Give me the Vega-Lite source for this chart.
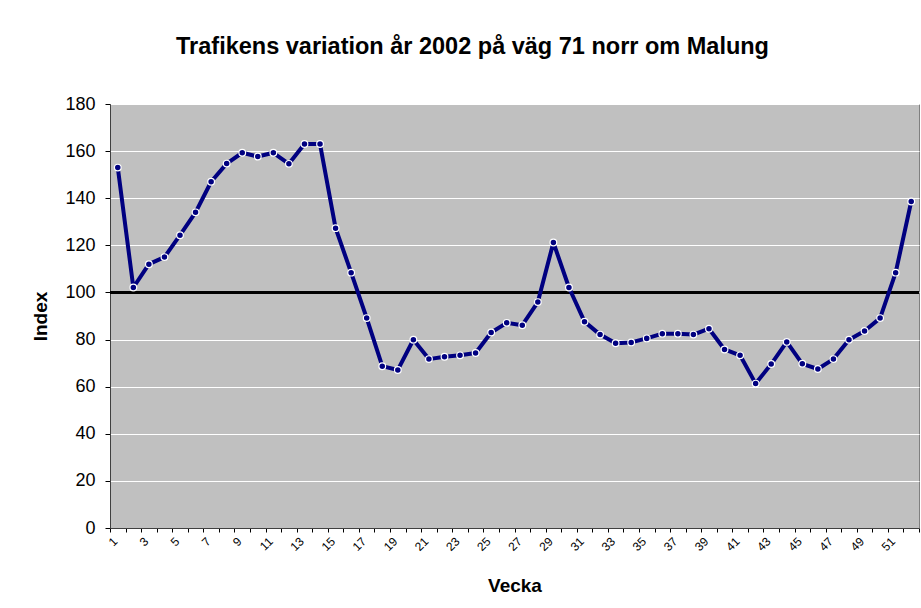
{
  "$schema": "https://vega.github.io/schema/vega-lite/v6.json",
  "width": 809,
  "height": 424,
  "autosize": {"type": "none"},
  "padding": {"left": 110, "top": 104, "right": 2, "bottom": 80},
  "background": "white",
  "title": {
    "text": "Trafikens variation år 2002 på väg 71 norr om Malung",
    "font": "Liberation Sans",
    "fontSize": 23.5,
    "fontWeight": "bold",
    "color": "black",
    "anchor": "middle",
    "dx": -42,
    "offset": 37
  },
  "data": {
    "values": [
      {"week": 1, "index": 153.0},
      {"week": 2, "index": 102.1},
      {"week": 3, "index": 112.0},
      {"week": 4, "index": 115.0},
      {"week": 5, "index": 124.3},
      {"week": 6, "index": 134.0},
      {"week": 7, "index": 147.0},
      {"week": 8, "index": 154.7},
      {"week": 9, "index": 159.3},
      {"week": 10, "index": 157.7},
      {"week": 11, "index": 159.3},
      {"week": 12, "index": 154.6},
      {"week": 13, "index": 163.0},
      {"week": 14, "index": 163.0},
      {"week": 15, "index": 127.3},
      {"week": 16, "index": 108.4},
      {"week": 17, "index": 89.1},
      {"week": 18, "index": 68.7},
      {"week": 19, "index": 67.1},
      {"week": 20, "index": 79.9},
      {"week": 21, "index": 71.7},
      {"week": 22, "index": 72.7},
      {"week": 23, "index": 73.3},
      {"week": 24, "index": 74.3},
      {"week": 25, "index": 83.0},
      {"week": 26, "index": 87.1},
      {"week": 27, "index": 86.1},
      {"week": 28, "index": 95.9},
      {"week": 29, "index": 121.2},
      {"week": 30, "index": 102.1},
      {"week": 31, "index": 87.6},
      {"week": 32, "index": 82.1},
      {"week": 33, "index": 78.4},
      {"week": 34, "index": 78.8},
      {"week": 35, "index": 80.5},
      {"week": 36, "index": 82.5},
      {"week": 37, "index": 82.5},
      {"week": 38, "index": 82.1},
      {"week": 39, "index": 84.6},
      {"week": 40, "index": 75.8},
      {"week": 41, "index": 73.3},
      {"week": 42, "index": 61.3},
      {"week": 43, "index": 69.6},
      {"week": 44, "index": 79.0},
      {"week": 45, "index": 69.7},
      {"week": 46, "index": 67.5},
      {"week": 47, "index": 71.7},
      {"week": 48, "index": 79.9},
      {"week": 49, "index": 83.6},
      {"week": 50, "index": 89.1},
      {"week": 51, "index": 108.4},
      {"week": 52, "index": 138.6}
    ]
  },
  "layer": [
    {
      "mark": {"type": "point", "opacity": 0},
      "encoding": {
        "x": {
          "field": "week",
          "type": "quantitative",
          "scale": {"domain": [0.5, 52.5], "nice": false, "zero": false},
          "axis": {
            "orient": "bottom",
            "values": [0.5,1.5,2.5,3.5,4.5,5.5,6.5,7.5,8.5,9.5,10.5,11.5,12.5,13.5,14.5,15.5,16.5,17.5,18.5,19.5,20.5,21.5,22.5,23.5,24.5,25.5,26.5,27.5,28.5,29.5,30.5,31.5,32.5,33.5,34.5,35.5,36.5,37.5,38.5,39.5,40.5,41.5,42.5,43.5,44.5,45.5,46.5,47.5,48.5,49.5,50.5,51.5,52.5],
            "labels": false,
            "grid": false,
            "title": null,
            "tickColor": "black",
            "tickSize": 4,
            "domainColor": "#404040",
            "domainWidth": 1
          }
        },
        "y": {"field": "index", "type": "quantitative", "scale": {"domain": [0, 180], "nice": false}}
      }
    },
    {
      "mark": {"type": "rule", "color": "black", "strokeWidth": 3},
      "encoding": {
        "y": {"datum": 100, "type": "quantitative"}
      }
    },
    {
      "mark": {
        "type": "line",
        "color": "#000080",
        "strokeWidth": 4,
        "strokeJoin": "round",
        "point": {"filled": true, "fill": "#000080", "stroke": "white", "strokeWidth": 1.2, "size": 45}
      },
      "encoding": {
        "x": {
          "field": "week",
          "type": "quantitative",
          "scale": {"domain": [0.5, 52.5], "nice": false, "zero": false},
          "axis": {
            "orient": "bottom",
            "values": [1,3,5,7,9,11,13,15,17,19,21,23,25,27,29,31,33,35,37,39,41,43,45,47,49,51],
            "ticks": false,
            "domain": false,
            "grid": false,
            "labelAngle": -45,
            "labelAlign": "right",
            "labelBaseline": "middle",
            "labelFont": "Liberation Sans",
            "labelFontSize": 12,
            "labelColor": "black",
            "labelPadding": 11,
            "labelOffset": -3,
            "title": "Vecka",
            "titleFont": "Liberation Sans",
            "titleFontSize": 19,
            "titleFontWeight": "bold",
            "titleColor": "black",
            "titlePadding": 24
          }
        },
        "y": {
          "field": "index",
          "type": "quantitative",
          "scale": {"domain": [0, 180], "nice": false},
          "axis": {
            "values": [0,20,40,60,80,100,120,140,160,180],
            "grid": true,
            "gridColor": "white",
            "gridWidth": 1,
            "gridOpacity": 1,
            "tickColor": "black",
            "tickSize": 5,
            "domainColor": "#404040",
            "labelFont": "Liberation Sans",
            "labelFontSize": 18,
            "labelColor": "black",
            "labelPadding": 10,
            "title": "Index",
            "titleFont": "Liberation Sans",
            "titleFontSize": 19,
            "titleFontWeight": "bold",
            "titleColor": "black",
            "titlePadding": 14
          }
        }
      }
    }
  ],
  "resolve": {"axis": {"x": "independent"}},
  "config": {
    "view": {"fill": "#C0C0C0", "stroke": "#808080", "strokeWidth": 1}
  }
}
